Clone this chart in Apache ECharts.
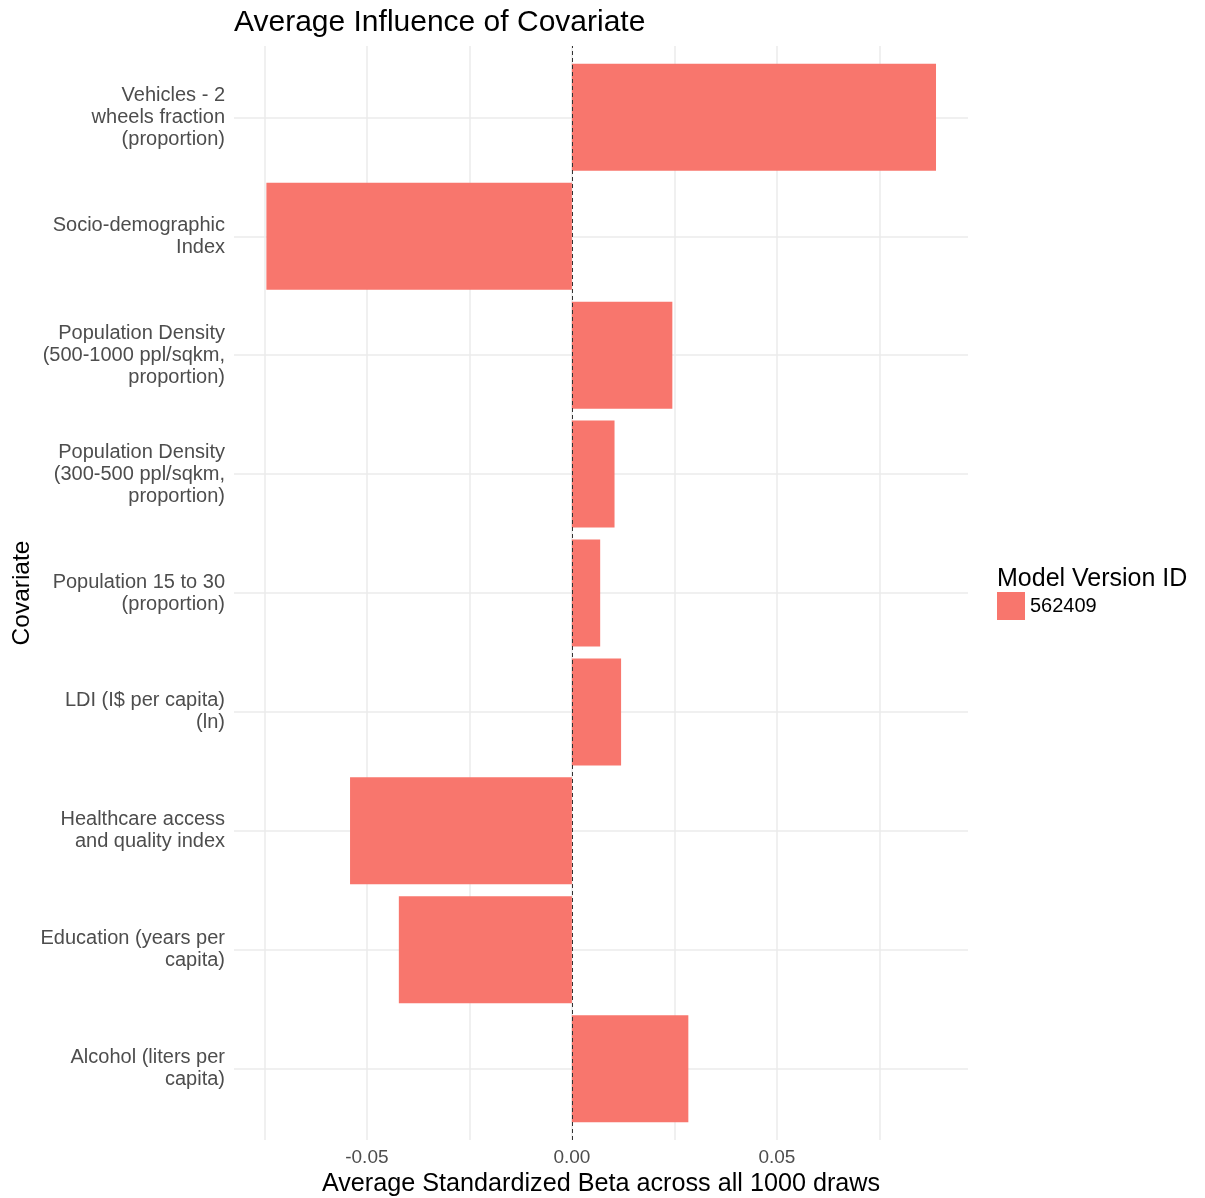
<!DOCTYPE html>
<html>
<head>
<meta charset="utf-8">
<title>Average Influence of Covariate</title>
<script src="https://cdn.jsdelivr.net/npm/echarts@6/dist/echarts.min.js"></script>
<style>
  html, body { margin: 0; padding: 0; background: #fff; }
  #chart { width: 1205px; height: 1198px; }
</style>
</head>
<body>
<div id="chart"></div>
<script>
// covariates, top to bottom
const covariates = [
  'Vehicles - 2\nwheels fraction\n(proportion)',
  'Socio-demographic\nIndex',
  'Population Density\n(500-1000 ppl/sqkm,\nproportion)',
  'Population Density\n(300-500 ppl/sqkm,\nproportion)',
  'Population 15 to 30\n(proportion)',
  'LDI (I$ per capita)\n(ln)',
  'Healthcare access\nand quality index',
  'Education (years per\ncapita)',
  'Alcohol (liters per\ncapita)'
]
// average standardized beta
const betas = [0.0888, -0.0745, 0.0245, 0.0104, 0.0069, 0.0120, -0.0541, -0.0422, 0.0284]
const modelVersion = '562409'
const xTicks = [-0.05, 0.00, 0.05]
const xGrid = [-0.075, -0.05, -0.025, 0, 0.025, 0.05, 0.075]
const xMin = -0.0824
const xMax = 0.0966

const font = 'Liberation Sans, Arial, sans-serif'
const chart = echarts.init(document.getElementById('chart'))

// ggplot keeps 0.6 of a band above and below the categories,
// the bars sit in an inner grid, the gridlines in the outer one
const plotTop = 46
const plotBottom = 58
const band = (1198 - plotTop - plotBottom) / (covariates.length + 0.2)

const optionData = {
  backgroundColor: '#fff',
  animation: false,
  title: [
    {
      text: 'Average Influence of Covariate',
      left: 229,
      top: 3,
      textStyle: { fontFamily: font, fontSize: 30, fontWeight: 'normal', color: '#000' }
    },
    {
      text: 'Model Version ID',
      left: 992,
      top: 562,
      textStyle: { fontFamily: font, fontSize: 25, fontWeight: 'normal', color: '#000' }
    }
  ],
  legend: {
    left: 997,
    top: 592,
    padding: 0,
    icon: 'rect',
    itemWidth: 28,
    itemHeight: 28,
    data: [modelVersion],
    textStyle: { fontFamily: font, fontSize: 20, color: '#000' }
  },
  grid: [
    { left: 234, right: 237, top: plotTop, bottom: plotBottom, containLabel: false, outerBoundsMode: 'none' },
    { left: 234, right: 237, top: plotTop + 0.1 * band, bottom: plotBottom + 0.1 * band, containLabel: false, outerBoundsMode: 'none' }
  ],
  xAxis: [
    {
      gridIndex: 0,
      type: 'value',
      min: xMin,
      max: xMax,
      name: 'Average Standardized Beta across all 1000 draws',
      nameLocation: 'middle',
      nameGap: 29,
      nameTextStyle: { fontFamily: font, fontSize: 25.2, color: '#000' },
      axisLine: { show: false },
      axisTick: { show: false, customValues: xGrid },
      axisLabel: {
        customValues: xTicks,
        margin: 8,
        fontFamily: font,
        fontSize: 19,
        color: '#4d4d4d',
        formatter: function (v) { return v.toFixed(2) }
      },
      splitLine: { show: true, lineStyle: { color: '#ebebeb', width: 1.5 } }
    },
    {
      gridIndex: 1,
      type: 'value',
      min: xMin,
      max: xMax,
      axisLine: { show: false },
      axisTick: { show: false },
      axisLabel: { show: false },
      splitLine: { show: false }
    }
  ],
  yAxis: [
    {
      gridIndex: 0,
      type: 'value',
      min: 0,
      max: 1,
      show: false
    },
    {
      gridIndex: 1,
      type: 'category',
      inverse: true,
      data: covariates,
      name: 'Covariate',
      nameLocation: 'middle',
      nameGap: 199,
      nameMoveOverlap: false,
      nameTextStyle: { fontFamily: font, fontSize: 24.5, color: '#000' },
      axisLine: { show: false },
      axisTick: { show: false },
      splitLine: { show: false },
      axisLabel: {
        margin: 9,
        fontFamily: font,
        fontSize: 20,
        lineHeight: 22,
        color: '#4d4d4d',
        align: 'right'
      }
    }
  ],
  series: [
    {
      // horizontal grid lines behind the bars
      name: 'ygrid',
      type: 'scatter',
      xAxisIndex: 1,
      yAxisIndex: 1,
      data: [],
      silent: true,
      z: 1,
      markLine: {
        silent: true,
        z: 1,
        symbol: 'none',
        label: { show: false },
        lineStyle: { color: '#ebebeb', width: 1.5, type: 'solid' },
        data: covariates.map(function (c) { return { yAxis: c } })
      }
    },
    {
      name: modelVersion,
      type: 'bar',
      xAxisIndex: 1,
      yAxisIndex: 1,
      z: 2,
      barWidth: '90%',
      itemStyle: { color: '#F8766D' },
      data: betas
    },
    {
      // dashed line at zero, whole plot height
      name: 'zero',
      type: 'scatter',
      xAxisIndex: 0,
      yAxisIndex: 0,
      data: [],
      silent: true,
      z: 5,
      markLine: {
        silent: true,
        z: 5,
        symbol: 'none',
        label: { show: false },
        lineStyle: { color: '#333', width: 1, type: [4, 3] },
        data: [{ xAxis: 0 }]
      }
    }
  ]
}
chart.setOption(optionData)
</script>
</body>
</html>
